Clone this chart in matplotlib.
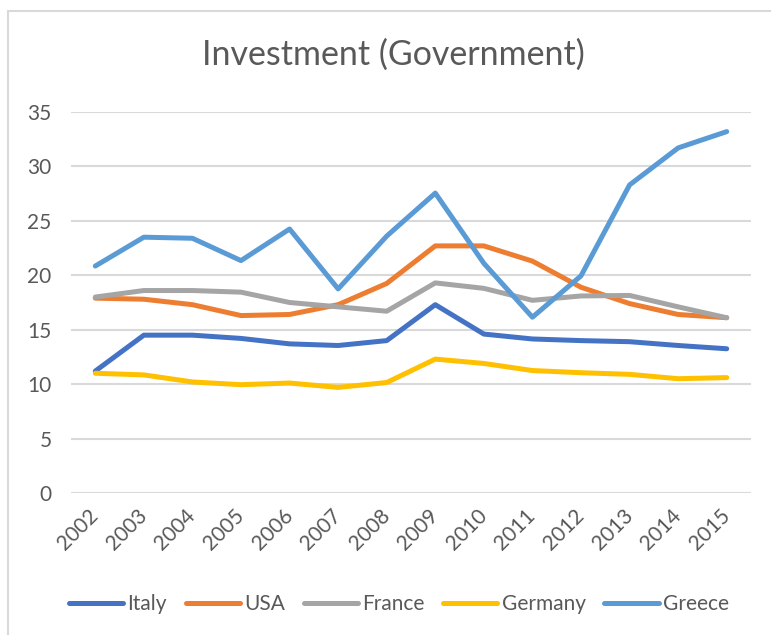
import matplotlib.pyplot as plt
from matplotlib.patches import Rectangle

# data
years = [str(y) for y in range(2002, 2016)]
italy = [11.2, 14.5, 14.5, 14.2, 13.7, 13.55, 14.0, 17.3, 14.6, 14.15, 14.0, 13.9, 13.55, 13.25]
usa = [17.9, 17.8, 17.3, 16.3, 16.4, 17.3, 19.25, 22.7, 22.7, 21.3, 18.9, 17.4, 16.4, 16.1]
france = [18.0, 18.6, 18.6, 18.45, 17.5, 17.1, 16.7, 19.3, 18.8, 17.7, 18.1, 18.15, 17.1, 16.1]
germany = [11.0, 10.85, 10.2, 9.95, 10.1, 9.7, 10.15, 12.3, 11.9, 11.25, 11.05, 10.9, 10.5, 10.6]
greece = [20.85, 23.5, 23.4, 21.35, 24.25, 18.75, 23.6, 27.55, 21.1, 16.15, 19.95, 28.3, 31.7, 33.2]

names = ['Italy', 'USA', 'France', 'Germany', 'Greece']
colors = ['#4472C4', '#ED7D31', '#A5A5A5', '#FFC000', '#5B9BD5']
series = [italy, usa, france, germany, greece]

plt.rcParams['font.family'] = ['Lato', 'DejaVu Sans']
txt = '#595959'

fig = plt.figure(figsize=(7.71, 6.35), dpi=100)
ax = fig.add_axes([71/771, 1 - 493/635, 680/771, 381/635])

# chart frame (only top/left visible in the crop)
fig.patches.append(Rectangle((8/771, -0.1), 1.2, 1 - 11/635 + 0.1, transform=fig.transFigure,
                             fill=False, edgecolor='#D9D9D9', lw=1.5))

x = range(len(years))
for name, c, s in zip(names, colors, series):
    ax.plot(x, s, color=c, lw=3.6, label=name,
            solid_joinstyle='round', solid_capstyle='round')

ax.set_xlim(-0.5, len(years) - 0.5)
ax.set_ylim(0, 35)
ax.set_yticks(range(0, 36, 5))
ax.yaxis.grid(True, color='#D9D9D9', lw=1.5)
ax.set_axisbelow(True)
for sp in ax.spines.values():
    sp.set_visible(False)
ax.tick_params(length=0, colors=txt, labelsize=15)
ax.tick_params(axis='y', pad=14)

ax.set_xticks(list(x))
ax.set_xticklabels(years, rotation=45, ha='right', va='center',
                   rotation_mode='anchor')
ax.tick_params(axis='x', pad=14)

fig.text(0.51, 1 - 55/635, 'Investment (Government)', ha='center', va='center',
         fontsize=24.5, color=txt)

leg = ax.legend(loc='center', bbox_to_anchor=(399/771, 1 - 604/635),
                bbox_transform=fig.transFigure, ncol=5, frameon=False,
                fontsize=15, handlelength=2.6, handletextpad=0.2,
                columnspacing=0.9, labelcolor=txt)

fig.savefig('out.png', dpi=100)
